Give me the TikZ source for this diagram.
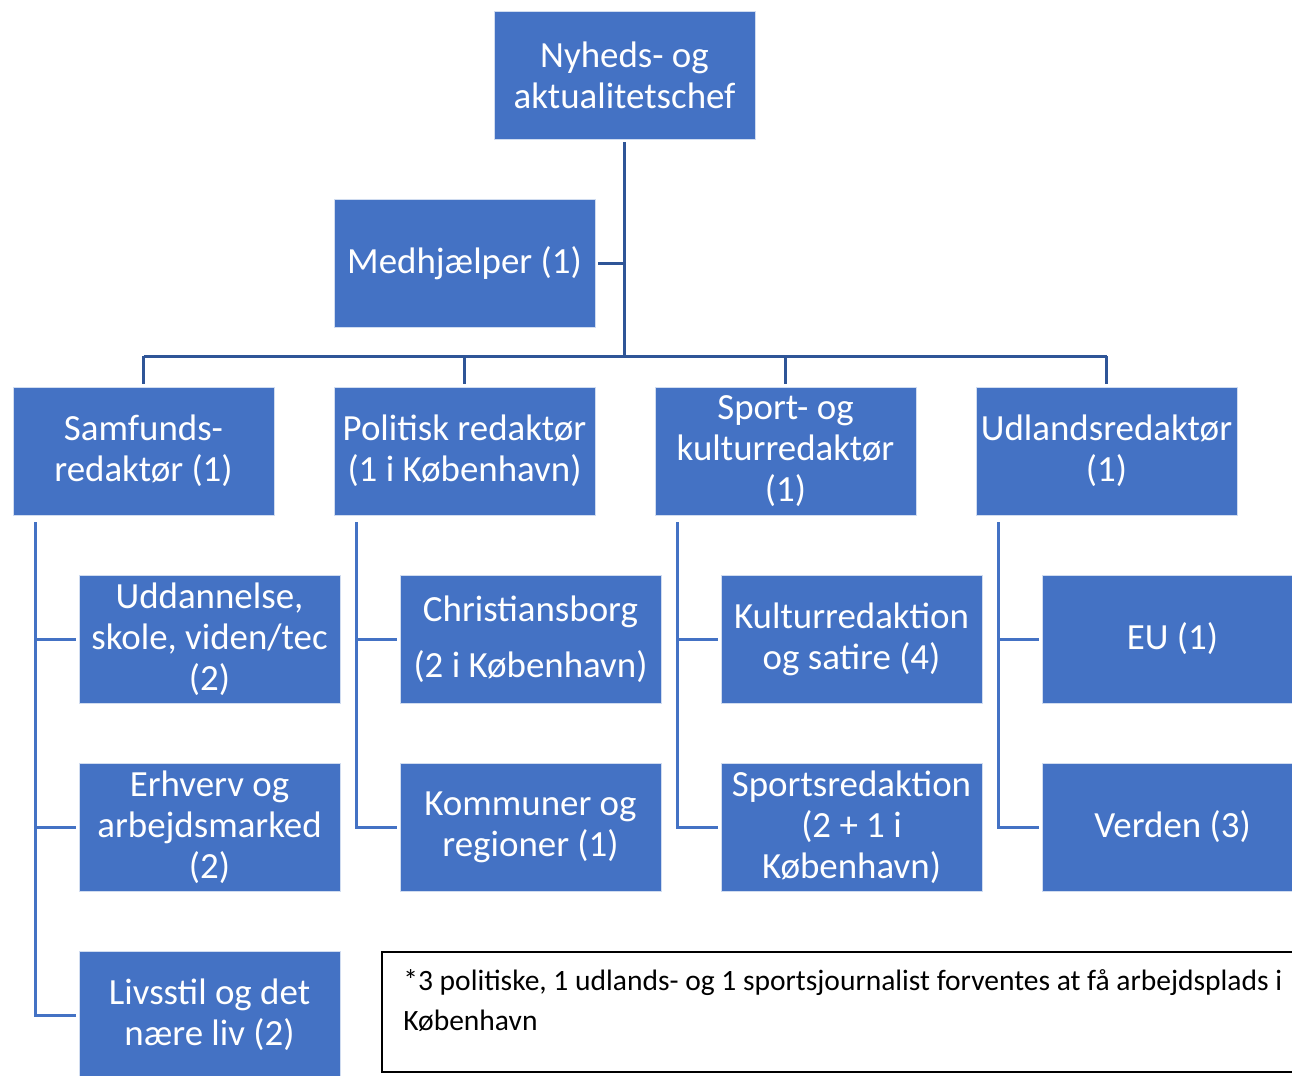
\documentclass[tikz,border=0pt]{standalone}
\usepackage{fontspec}
\setmainfont{Carlito}
\usepackage{xcolor}
\usetikzlibrary{positioning}
\definecolor{boxblue}{HTML}{4472C4}
\definecolor{trunkblue}{HTML}{2F5597}

\begin{document}
\begin{tikzpicture}[node distance=3.76cm and 6.42cm, on grid,
    unit/.style={rectangle, fill=boxblue, draw=white!75!boxblue, line width=0.4pt, text=white,
        minimum width=5.22cm, minimum height=2.56cm, inner sep=1pt, outer sep=0.06cm,
        align=center, font=\fontsize{21}{23.2}\selectfont},
    trunk/.style={trunkblue, line width=0.06cm},
    branch/.style={boxblue, line width=0.06cm},
    notebox/.style={draw=black, line width=0.04cm, minimum width=19cm, minimum height=2.4cm, anchor=north west},
    notetext/.style={font=\fontsize{16.8}{22.7}\selectfont, align=left, inner sep=0pt, anchor=north west}]

    \useasboundingbox (0,0) rectangle (25.84,-21.5);

    % Top of the chart
    \node[unit] (chef) at (12.49,-1.5) {Nyheds- og\\aktualitetschef};

    % Editors
    \node[unit] (sam) at (2.87,-9.02) {Samfunds-\\redaktør (1)};
    \node[unit] (pol) [right=of sam] {Politisk redaktør\\(1 i København)};
    \node[unit] (sport) [right=of pol] {Sport- og\\kulturredaktør\\(1)};
    \node[unit] (udl) [right=of sport] {Udlandsredaktør\\(1)};
    \node[unit] (med) [above=of pol] {Medhjælper (1)};

    % Desks
    \node[unit] (uddan) [below right=3.76cm and 1.32cm of sam] {Uddannelse,\\skole, viden/tec\\(2)};
    \node[unit] (erhv) [below=of uddan] {Erhverv og\\arbejdsmarked\\(2)};
    \node[unit] (livs) [below=of erhv] {Livsstil og det\\nære liv (2)};
    \node[unit] (chr) [below right=3.76cm and 1.32cm of pol] {Christiansborg\\[0.3cm](2 i København)};
    \node[unit] (komm) [below=of chr] {Kommuner og\\regioner (1)};
    \node[unit] (kult) [below right=3.76cm and 1.32cm of sport] {Kulturredaktion\\og satire (4)};
    \node[unit] (spred) [below=of kult] {Sportsredaktion\\(2 + 1 i\\København)};
    \node[unit] (eu) [below right=3.76cm and 1.32cm of udl] {EU (1)};
    \node[unit] (verd) [below=of eu] {Verden (3)};

    % Footnote
    \node[notebox] (note) at (7.62,-19.02) {};
    \node[notetext] (notetxt) at (8.06,-19.38) {*3 politiske, 1 udlands- og 1 sportsjournalist forventes at få arbejdsplads i\\København};

    % Upper lines
    \coordinate (bus) at (12.49,-7.12);
    \draw[trunk] (chef) -- (chef |- bus);
    \draw[trunk] (med) -- (med -| chef);
    \draw[trunk] (sam |- bus) -- (udl |- bus);
    \foreach \e in {sam,pol,sport,udl}
        \draw[trunk] (\e |- bus) -- (\e);

    % Lines down to the desks
    \foreach \e/\kids in {sam/{uddan,erhv,livs}, pol/{chr,komm}, sport/{kult,spred}, udl/{eu,verd}} {
        \coordinate (\e-tr) at ([xshift=0.5cm, yshift=-0.08cm]\e.south west);
        \foreach \k in \kids
            \draw[branch] (\e-tr) |- (\k);
    }

\end{tikzpicture}
\end{document}
